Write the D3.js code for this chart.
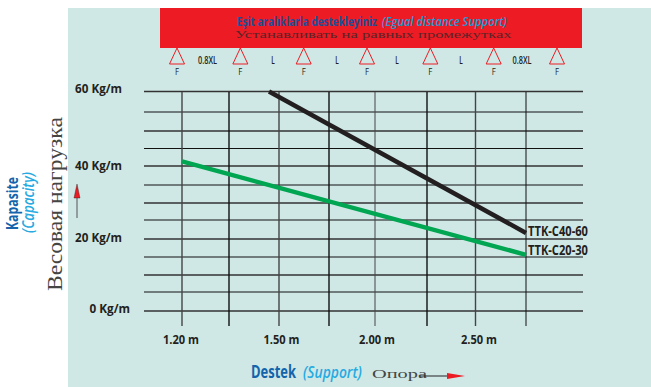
<!DOCTYPE html>
<html><head><meta charset="utf-8">
<script src="https://cdn.jsdelivr.net/npm/d3@7"></script>
<style>html,body{margin:0;padding:0;background:#fff}svg{display:block}
.num{font-family:"Open Sans",sans-serif;font-weight:700;fill:#231f20}
.ser{font-family:"Liberation Serif",serif;fill:#454545}
.nar{font-family:"Open Sans",sans-serif;font-weight:700}
</style></head><body><svg id="c" width="651" height="387"></svg>
<script>
// data
const yTicks = [0,5,10,15,20,25,30,35,40,45,50,55,60];
const yLabels = [0,20,40,60];
const xTicks = [1.2,1.35,1.5,1.75,2,2.25,2.5,2.75];
const xLabels = [1.2,1.5,2,2.5];
const c4060X = [1.47,2.75];
const c4060Y = [60,21.6];
const c2030X = [1.2,2.75];
const c2030Y = [41.3,15.6];
const supports = [0,1,2,3,4,5,6];
const spans = ["0.8XL","L","L","L","L","0.8XL"];

// layout
const W=651,H=387;
const xRange=[182,229,279,329,375,427,475.5,526];
const yRange=[311,292,275,257,239,220,203,185,166,148.5,131,112,91.5];
const x=d3.scaleLinear().domain(xTicks).range(xRange);
const y=d3.scaleLinear().domain(yTicks).range(yRange);
const sup=d3.scaleLinear().domain([0,6]).range([177,557]);
const spanX=[207.5,273,337,397,461,522];
const xLabelDx=[-1,2.5,2,3.5];
const yLabelBase={60:92.5,40:170,20:242,0:313};
const svg=d3.select("#c");
function txt(parent,cls,size,len,str){
  return parent.append("text").attr("class",cls).attr("font-size",size)
    .attr("textLength",len).attr("lengthAdjust","spacingAndGlyphs").text(str);
}
// squeeze a text horizontally with a real scale so its box stays true
function squeezed(cls,size,len,str,px,py,rot,italic){
  const t=svg.append("text").attr("class",cls).attr("font-size",size).text(str);
  if(italic) t.attr("font-style","italic").style("font-weight",600);
  const sx=len/t.node().getComputedTextLength();
  t.attr("transform",`translate(${px},${py})${rot?` rotate(${rot})`:""} scale(${sx},1)`);
  return t;
}

svg.append("rect").attr("x",68).attr("y",8).attr("width",W-68).attr("height",H-8).attr("fill","#cfe8e6");
svg.append("rect").attr("x",160).attr("y",8).attr("width",422).attr("height",40).attr("fill","#ed1c24");

// banner
squeezed("nar",12,140,"Eşit aralıklarla destekleyiniz",237,26).attr("fill","#1c4e9a");
squeezed("nar",12,125,"(Egual  distance Support)",382,26,0,true).attr("fill","#1a9ad6");
squeezed("ser",10.5,277,"Устанавливать на равных промежутках",235,37.5).style("fill","#5a2328");

// supports
const tri=svg.append("g").selectAll("g").data(supports).join("g").attr("transform",d=>`translate(${sup(d)},0)`);
tri.append("path").attr("d","M0,48L7.5,64L-7.5,64Z").attr("fill","none").attr("stroke","#ed1c24").attr("stroke-width",1);
tri.append("text").attr("class","num").attr("y",75).attr("text-anchor","middle").attr("font-size",9.5).style("font-weight",400).attr("textLength",4).attr("lengthAdjust","spacingAndGlyphs").text("F");
svg.append("g").selectAll("text").data(spans).join("text").attr("class","num").attr("x",(d,i)=>spanX[i]).attr("y",64).attr("text-anchor","middle").attr("font-size",10).style("font-weight",600)
  .attr("textLength",d=>d==="L"?3.5:19).attr("lengthAdjust","spacingAndGlyphs").text(d=>d);

// grid
const gy=svg.append("g").attr("transform","translate(583,0)");
gy.selectAll("line").data(yTicks).join("line").attr("x1",-439).attr("x2",0).attr("y1",d=>y(d)).attr("y2",d=>y(d))
  .attr("stroke",(d,i)=>i%2? "#111":"#333").attr("stroke-width",(d,i)=>i%2?1:1.4);
const gx=svg.append("g");
gx.selectAll("line").data(xTicks).join("line").attr("x1",d=>x(d)).attr("x2",d=>x(d)).attr("y1",92).attr("y2",326)
  .attr("stroke",(d,i)=>i%2?"#111":"#444").attr("stroke-width",(d,i)=>i==7||i==4?1:1.4);

// tick labels
svg.append("g").selectAll("text").data(yLabels).join("text").attr("class","num")
  .attr("x",d=>d===0?130:122).attr("y",d=>yLabelBase[d]).attr("text-anchor","end").attr("font-size",12)
  .attr("textLength",d=>d===0?40.5:47).attr("lengthAdjust","spacingAndGlyphs").text(d=>d+" Kg/m");
svg.append("g").selectAll("text").data(xLabels).join("text").attr("class","num")
  .attr("x",(d,i)=>x(d)+xLabelDx[i]).attr("y",344).attr("text-anchor","middle").attr("font-size",12)
  .attr("textLength",36).attr("lengthAdjust","spacingAndGlyphs").text(d=>d.toFixed(2)+" m");

// lines
const lineGen=d3.line().x(d=>x(d[0])).y(d=>y(d[1]));
svg.append("path").attr("d",lineGen(d3.zip(c4060X,c4060Y))).attr("fill","none").attr("stroke","#231f20").attr("stroke-width",4.5);
svg.append("path").attr("d",lineGen(d3.zip(c2030X,c2030Y))).attr("fill","none").attr("stroke","#00a651").attr("stroke-width",4.5);
txt(svg,"num",13.5,60,"TTK-C40-60").attr("x",528).attr("y",235.5);
txt(svg,"num",13.5,60,"TTK-C20-30").attr("x",528).attr("y",255);

// axis titles
squeezed("nar",16.5,53,"Kapasite",18,230,-90).attr("fill","#1464ac");
squeezed("nar",17,61,"(Capacity)",34,233,-90,true).attr("fill","#27aae1");
squeezed("ser",21.5,174,"Весовая нагрузка",62,291,-90);
svg.append("line").attr("x1",77).attr("x2",77).attr("y1",218).attr("y2",196).attr("stroke","#555").attr("stroke-width",1);
svg.append("path").attr("d","M77,184L80,198L74,198Z").attr("fill","#ed1c24").attr("stroke","#222").attr("stroke-width",.4);

squeezed("nar",18.5,45,"Destek",251,378).attr("fill","#1464ac");
squeezed("nar",16,59,"(Support)",303,378,0,true).attr("fill","#27aae1");
squeezed("ser",13.5,55,"Опора",372,378);
svg.append("line").attr("x1",420).attr("x2",450).attr("y1",376).attr("y2",376).attr("stroke","#222").attr("stroke-width",1);
svg.append("path").attr("d","M447,373L465,376L447,379Z").attr("fill","#ed1c24");
</script></body></html>
